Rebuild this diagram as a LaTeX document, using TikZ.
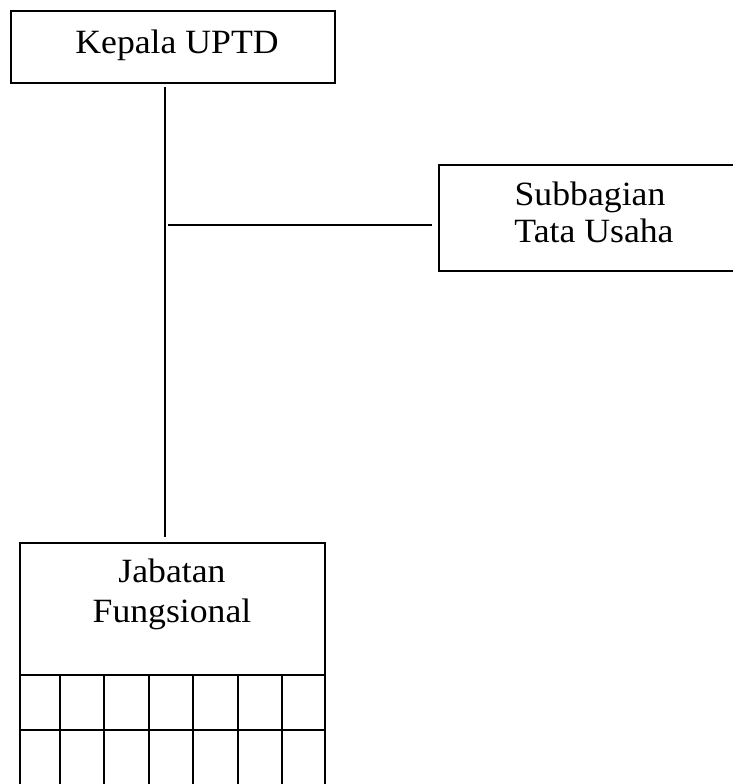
\documentclass[tikz,border=0pt]{standalone}
\usepackage{fontspec}
\setmainfont{Liberation Serif}[FakeStretch=1.05]
\begin{document}
\begin{tikzpicture}[x=1pt,y=-1pt,
  box/.style={draw,line width=1.5pt,inner sep=0pt},
  lbl/.style={anchor=base,inner sep=0pt,font=\fontsize{34}{37}\selectfont},
  link/.style={line width=1.5pt}]
\useasboundingbox (0,0) rectangle (733,784);
\clip (0,0) rectangle (733,784);
% boxes
\node[box,minimum width=324pt,minimum height=72pt] (kepala) at (173,47) {};
\node[box,minimum width=330pt,minimum height=106pt,anchor=north west] (subbag) at (438,164) {};
\node[box,minimum width=305pt,minimum height=300pt,anchor=north west] (jabatan) at (19,542) {};
% texts
\node[lbl] (kepalaT) at (177,53) {Kepala UPTD};
\node[lbl] (subbagT1) at (590,205) {Subbagian};
\node[lbl] (subbagT2) at (594,242) {Tata Usaha};
\node[lbl] (jabT1) at (172,582) {Jabatan};
\node[lbl] (jabT2) at (172,622) {Fungsional};
% connectors
\coordinate (vtop) at (165,87);
\coordinate (vbot) at (165,537);
\coordinate (hl) at (168,225);
\coordinate (hr) at (432,225);
\draw[link] (vtop) -- (vbot);
\draw[link] (hl) -- (hr);
% grid in Jabatan box
\draw[link] (19,675) -- (324,675);
\draw[link] (19,730) -- (324,730);
\foreach \x in {60,104,149,193,238,282}
  \draw[link] (\x,675) -- (\x,800);
\end{tikzpicture}
\end{document}
